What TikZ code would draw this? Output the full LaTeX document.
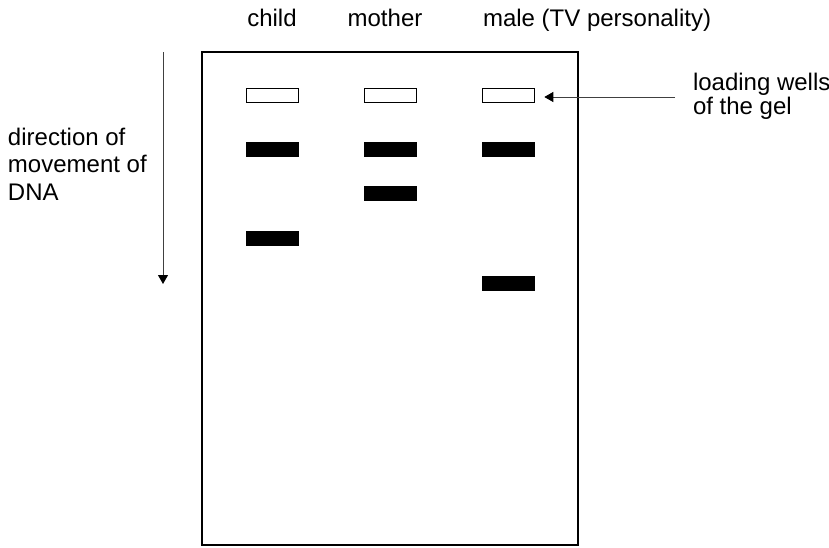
\documentclass[tikz,border=0pt]{standalone}
\usepackage{fontspec}
\setmainfont{Liberation Sans}
\usetikzlibrary{arrows.meta}

\begin{document}
\begin{tikzpicture}[x=1pt,y=-1pt,
  every node/.style={inner sep=0pt, outer sep=0pt},
  lbl/.style={font=\fontsize{24}{27.5}\selectfont, anchor=base west, align=left},
  well/.style={draw=black, line width=1.4pt, fill=white, minimum width=51.6pt, minimum height=13.6pt},
  band/.style={fill=black, minimum width=53pt, minimum height=15pt},
  pointer/.style={draw=black!75, line width=1pt, -{Triangle[width=10pt,length=9pt,color=black,fill=black]}}]
  \useasboundingbox (0,0) rectangle (829,547);

  % the gel slab
  \node[draw=black, line width=2.6pt, minimum width=376pt, minimum height=493pt] (gel) at (390,298.5) {};

  % lane headings
  \node[lbl, anchor=base] (tchild) at (272,26) {child};
  \node[lbl, anchor=base] (tmother) at (385,26) {mother};
  \node[lbl] (tmale) at (483,26) {male (TV personality)};

  % loading wells
  \node[well] (wchild) at (272.5,95.5) {};
  \node[well] (wmother) at (390.5,95.5) {};
  \node[well] (wmale) at (508.5,95.5) {};

  % DNA bands
  \node[band] (bchild1) at (272.5,149.5) {};
  \node[band] (bmother1) at (390.5,149.5) {};
  \node[band] (bmale1) at (508.5,149.5) {};
  \node[band] (bmother2) at (390.5,193.5) {};
  \node[band] (bchild2) at (272.5,238.5) {};
  \node[band] (bmale2) at (508.5,283.5) {};

  % direction of movement
  \coordinate (dtop) at (163,52);
  \coordinate (dbot) at (163,284);
  \draw[pointer] (dtop) -- (dbot);
  \node[lbl] (tdir) at (8,200) {direction of\\movement of\\DNA};

  % loading wells label
  \coordinate (lstart) at (675,97);
  \draw[pointer] (lstart) -- ([xshift=10pt]wmale.east |- lstart);
  \node[lbl, font=\fontsize{24}{24}\selectfont] (tload) at (693,114) {loading wells\\of the gel};
\end{tikzpicture}
\end{document}
